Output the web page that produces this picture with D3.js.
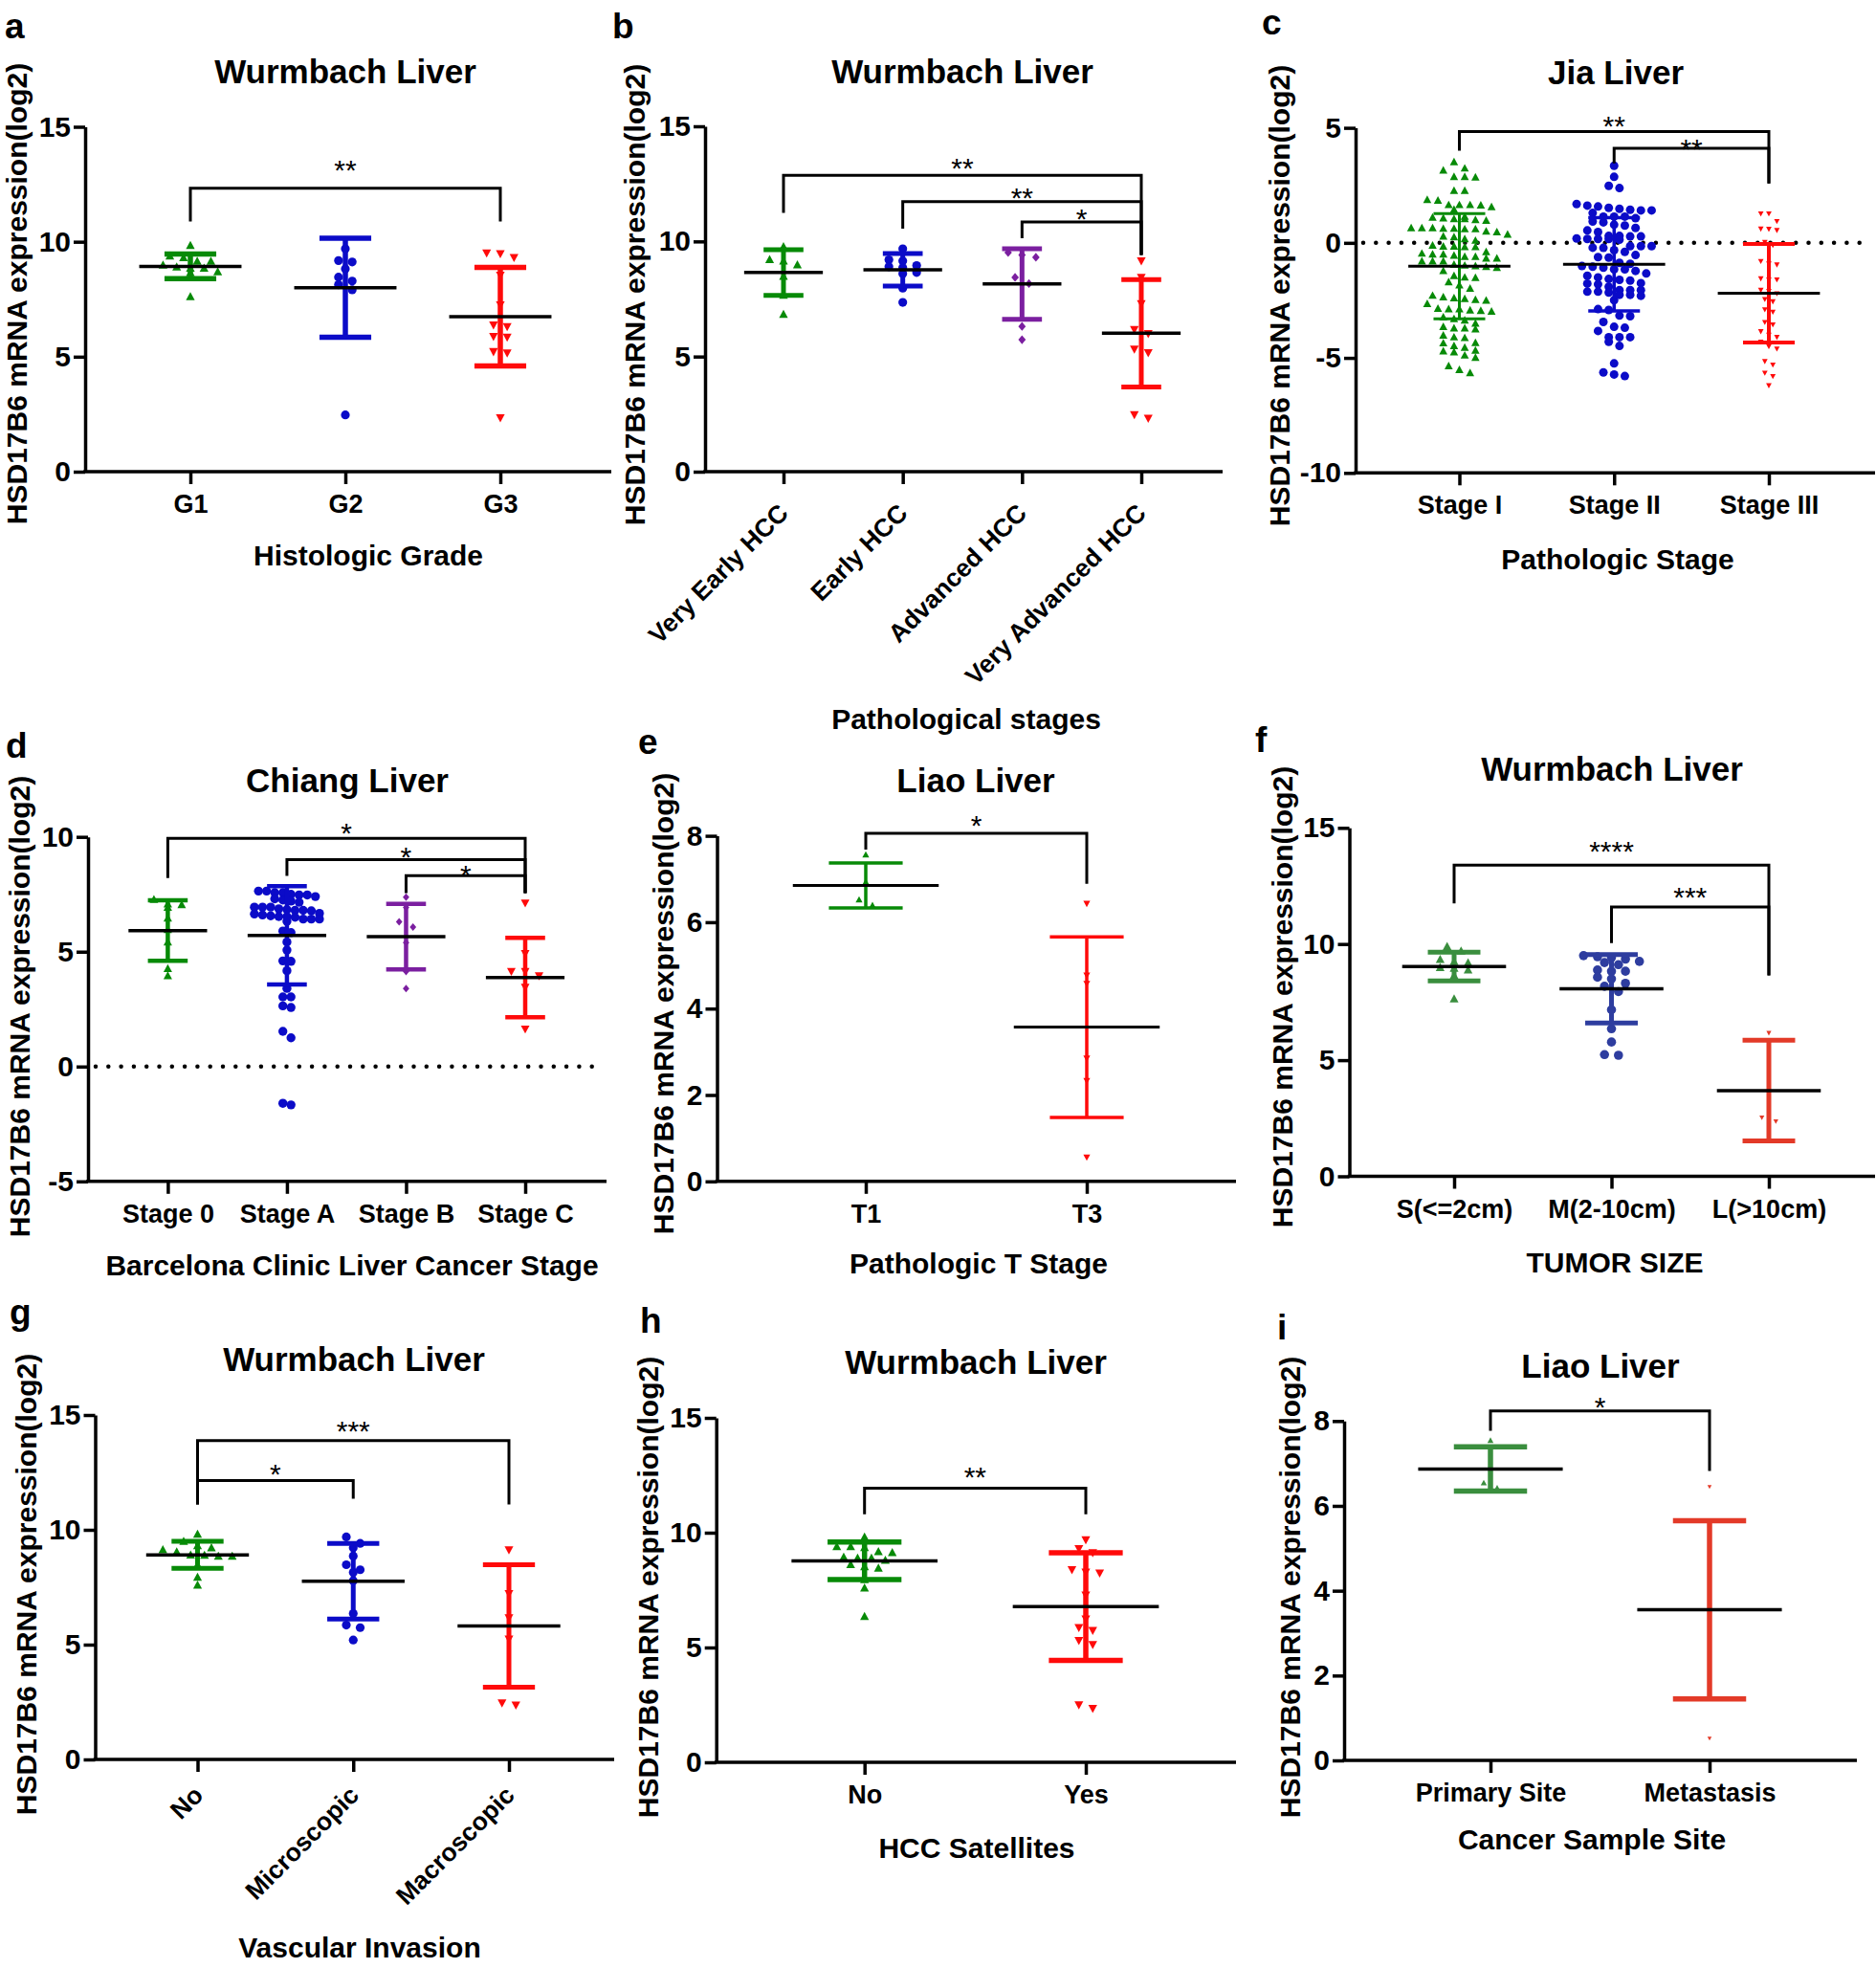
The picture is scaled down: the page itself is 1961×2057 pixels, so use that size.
<!DOCTYPE html>
<html>
<head>
<meta charset="utf-8">
<script src="https://d3js.org/d3.v7.min.js"></script>
<style>
  body { margin: 0; background: #fff; }
</style>
</head>
<body>
<script>
var FONT = "'Liberation Sans', Arial, Helvetica, sans-serif";

// ---------- data (log2 expression) ----------
// a: Wurmbach, histologic grade
var aCats = ["G1", "G2", "G3"];
var aG1 = [9.84, 9.38, 9.31, 9.15, 9.15, 8.98, 8.9, 8.85, 8.85, 8.69, 8.65, 7.61];
var aG2 = [9.69, 9.18, 9.12, 8.82, 8.46, 8.29, 8.13, 7.91, 2.47];
var aG3 = [9.51, 9.48, 9.31, 8.54, 7.25, 6.38, 6.31, 5.88, 5.85, 5.22, 5.16, 2.34];
var aMean = [8.93, 8.0, 6.74];
var aSd = [0.535, 2.15, 2.145];

// b: Wurmbach, pathological stages
var bCats = ["Very Early HCC", "Early HCC", "Advanced HCC", "Very Advanced HCC"];
var bVE = [9.77, 9.21, 9.15, 8.98, 8.48, 7.66, 6.83];
var bE = [9.68, 9.2, 9.15, 8.95, 8.9, 8.86, 8.65, 8.6, 7.97, 7.35];
var bA = [9.52, 9.41, 9.31, 8.44, 8.17, 6.31, 5.73];
var bVA = [9.15, 8.44, 7.3, 6.17, 6.0, 5.32, 5.17, 2.48, 2.32];
var bMean = [8.65, 8.77, 8.15, 6.01];
var bSd = [0.99, 0.705, 1.53, 2.33];

// c: Jia, pathologic stage
var cCats = ["Stage I", "Stage II", "Stage III"];
var cI = [3.52, 3.24, 3.15, 2.87, 2.87, 2.85, 2.27, 2.27, 1.87, 1.84,
  1.65, 1.65, 1.65, 1.63, 1.56, 1.45, 1.14, 1.1, 1.07, 1.04, 1.04, 1.0, 0.97,
  0.65, 0.65, 0.65, 0.62, 0.62, 0.6, 0.6, 0.5, 0.47, 0.37, 0.28, 0.25, 0.17, 0.1,
  -0.11, -0.15, -0.15, -0.18, -0.18, -0.39, -0.46,
  -0.5, -0.5, -0.55, -0.6, -0.6, -0.67, -0.67, -0.8, -0.8, -0.8,
  -0.94, -0.98, -1.01, -1.04, -1.08, -1.22, -1.43, -1.5, -1.52, -1.7, -1.84, -1.98,
  -2.29, -2.36, -2.4, -2.43, -2.47, -2.5, -2.65, -2.86, -2.88, -2.88, -2.93, -2.95, -2.98,
  -3.23, -3.3, -3.37, -3.5, -3.65, -3.71, -3.71, -3.75, -4.02, -4.1, -4.13,
  -4.34, -4.36, -4.48, -4.55, -4.68, -4.71, -4.75, -4.89, -4.99, -5.35, -5.52, -5.65];
var cII = [3.35, 2.87, 2.48, 2.38,
  1.69, 1.62, 1.58, 1.52, 1.48, 1.44, 1.41, 1.41,
  1.3, 1.14, 1.14, 1.14, 1.07, 0.93, 0.89,
  0.79, 0.75, 0.65, 0.54, 0.47,
  0.3, 0.3, 0.28, 0.28, 0.19, 0.17, 0.17, 0.17, 0.14,
  -0.14, -0.14, -0.14, -0.21, -0.22, -0.32, -0.39, -0.53, -0.62, -0.64, -0.87, -0.91,
  -1.01, -1.04, -1.08, -1.15, -1.15, -1.22, -1.33, -1.43, -1.5, -1.57, -1.61, -1.64, -1.75,
  -1.77, -1.8, -1.91, -2.05, -2.05, -2.05, -2.12, -2.12, -2.16, -2.26,
  -2.26, -2.3, -2.49, -2.88, -2.92, -3.16, -3.19, -3.44, -3.65, -3.69, -3.83,
  -4.1, -4.1, -4.1, -4.3, -4.48, -5.24, -5.63, -5.72, -5.79];
var cIII = [1.27, 1.27, 0.94, 0.61, 0.6, 0.55, 0.03, -0.1, -0.8, -0.9, -0.95,
  -1.55, -1.6, -1.6, -2.05, -2.1, -2.2, -2.45, -2.55, -2.9, -3.0, -3.45, -3.55,
  -3.85, -4.0, -4.1, -4.3, -4.5, -4.6, -5.15, -5.3, -5.65, -5.8, -6.2];
var cMean = [-1.015, -0.93, -2.19];
var cSd = [2.285, 2.03, 2.14];

// d: Chiang, BCLC stage
var dCats = ["Stage 0", "Stage A", "Stage B", "Stage C"];
var d0 = [7.27, 7.08, 7.04, 6.93, 6.46, 5.96, 5.42, 4.26, 3.95];
var dA = [7.64, 7.64, 7.57, 7.57, 7.5, 7.47, 7.47, 7.4, 7.3, 7.25, 7.2, 7.15,
  6.94, 6.94, 6.94, 6.87, 6.83, 6.8, 6.8, 6.78, 6.67, 6.64, 6.6, 6.56, 6.53, 6.53,
  6.5, 6.42, 6.42, 6.42, 6.32, 5.9, 5.83, 5.42, 5.07, 4.6, 4.58, 4.17, 3.4,
  3.03, 3.03, 2.64, 2.57, 1.53, 1.25, -1.6, -1.67];
var dB = [7.37, 6.93, 6.3, 6.07, 5.39, 4.14, 3.4];
var dC = [7.12, 4.92, 4.14, 4.14, 3.95, 3.45, 1.63];
var dMean = [5.92, 5.71, 5.655, 3.875];
var dSd = [1.315, 2.14, 1.425, 1.725];

// e: Liao, pathologic T stage
var eCats = ["T1", "T3"];
var eT1 = [7.56, 6.93, 6.52, 6.39];
var eT3 = [6.43, 4.77, 4.58, 2.85, 2.33, 0.56];
var eMean = [6.85, 3.57];
var eSd = [0.52, 2.09];

// f: Wurmbach, tumour size
var fCats = ["S(<=2cm)", "M(2-10cm)", "L(>10cm)"];
var fS = [9.89, 9.7, 9.34, 9.24, 9.19, 8.99, 8.96, 8.88, 8.65, 7.64];
var fM = [9.5, 9.45, 9.42, 9.35, 9.25, 9.2, 9.11, 8.88, 8.83, 8.83, 8.57, 8.5,
  8.31, 8.18, 7.95, 7.17, 6.35, 5.78, 5.24, 5.21];
var fL = [6.17, 2.53, 2.37];
var fMean = [9.03, 8.075, 3.69];
var fSd = [0.62, 1.475, 2.17];

// g: Wurmbach, vascular invasion
var gCats = ["No", "Microscopic", "Macroscopic"];
var gNo = [9.81, 9.5, 9.31, 9.22, 9.13, 9.04, 8.9, 8.89, 8.85, 8.85, 8.48, 7.93, 7.59];
var gMi = [9.69, 9.41, 9.22, 8.85, 8.48, 8.26, 8.15, 7.78, 6.35, 5.85, 5.74, 5.2];
var gMa = [9.13, 7.22, 6.17, 5.24, 2.46, 2.37];
var gMean = [8.91, 7.76, 5.815];
var gSd = [0.585, 1.65, 2.665];

// h: Wurmbach, HCC satellites
var hCats = ["No", "Yes"];
var hNo = [9.81, 9.39, 9.39, 9.35, 9.17, 9.13, 8.93, 8.89, 8.89, 8.8, 8.61, 8.52,
  8.46, 7.96, 7.59, 6.35];
var hYes = [9.69, 9.31, 9.13, 8.39, 8.28, 8.24, 7.28, 6.24, 5.87, 5.74, 5.31, 5.13, 2.5, 2.35];
var hMean = [8.775, 6.785];
var hSd = [0.815, 2.345];

// i: Liao, sample site
var iCats = ["Primary Site", "Metastasis"];
var iP = [7.54, 6.92, 6.54, 6.42];
var iM = [6.45, 4.77, 4.58, 2.85, 2.33, 0.52];
var iMean = [6.87, 3.55];
var iSd = [0.52, 2.1];

var GREEN = "#078a07", BLUE = "#0b0bc8", RED = "#ff0a0a", PURPLE = "#7b1fa0";
var GREEN2 = "#3a8e3e", BLUE2 = "#2e3d9f", RED2 = "#e33a28";

var svg = d3.select("body").append("svg")
  .attr("width", 1961).attr("height", 2057)
  .style("background", "#fff");

function shapePath(shape, r) {
  if (shape == "up") return "M0," + (-1.05 * r) + "L" + r + "," + (0.8 * r) + "L" + (-r) + "," + (0.8 * r) + "Z";
  if (shape == "down") return "M0," + (1.05 * r) + "L" + r + "," + (-0.8 * r) + "L" + (-r) + "," + (-0.8 * r) + "Z";
  if (shape == "diamond") return "M0," + (-r) + "L" + (0.85 * r) + ",0L0," + r + "L" + (-0.85 * r) + ",0Z";
  return d3.symbol().type(d3.symbolCircle).size(Math.PI * r * r)();
}

// simple column-scatter layout: points close in y share a row and spread sideways
function swarm(values, y, cx, dx, bin) {
  var pts = values.map(function(v) { return {v: v, py: y(v)}; })
    .sort(function(a, b) { return a.py - b.py; });
  var rows = [], cur = null;
  pts.forEach(function(p) {
    if (!cur || p.py - cur[0].py >= bin) { cur = [p]; rows.push(cur); }
    else cur.push(p);
  });
  rows.forEach(function(row) {
    row.forEach(function(p, k) { p.px = cx + (k - (row.length - 1) / 2) * dx; });
  });
  return pts;
}

function drawPanel(p) {
  var g = svg.append("g");
  var y = d3.scaleLinear().domain(p.yDomain).range([p.yBot, p.yTop]);
  var x = d3.scalePoint().domain(p.cats).range(p.catRange);
  var step = (p.catRange[1] - p.catRange[0]) / (p.cats.length - 1);

  if (p.zeroEnd) {
    g.append("line")
      .attr("x1", p.x0 + 8).attr("x2", p.zeroEnd)
      .attr("y1", y(0)).attr("y2", y(0))
      .attr("stroke", "#000").attr("stroke-width", 4.5)
      .attr("stroke-linecap", "round").attr("stroke-dasharray", "0 13.3");
  }

  p.groups.forEach(function(gr, i) {
    var cx = x(p.cats[i]);
    var pts = swarm(gr.values, y, cx, gr.dx || p.dx, p.bin);
    g.selectAll(null).data(pts).enter().append("path")
      .attr("d", shapePath(gr.shape, gr.r || p.r))
      .attr("transform", function(d) { return "translate(" + d.px + "," + d.py + ")"; })
      .attr("fill", gr.color);
  });

  p.groups.forEach(function(gr, i) {
    var cx = x(p.cats[i]);
    var m = p.means[i], s = p.sds[i];
    var cw = step * 0.167;
    var sw = gr.sdw || p.sdw;
    g.append("path")
      .attr("d", "M" + cx + "," + y(m + s) + "V" + y(m - s) +
        "M" + (cx - cw) + "," + y(m + s) + "H" + (cx + cw) +
        "M" + (cx - cw) + "," + y(m - s) + "H" + (cx + cw))
      .attr("fill", "none").attr("stroke", gr.color).attr("stroke-width", sw);
    g.append("line")
      .attr("x1", cx - step * 0.33).attr("x2", cx + step * 0.33)
      .attr("y1", y(m)).attr("y2", y(m))
      .attr("stroke", "#000").attr("stroke-width", p.meanw || 3.5);
  });

  // axes
  var ya = g.append("g").attr("transform", "translate(" + p.x0 + ",0)")
    .call(d3.axisLeft(y).tickValues(p.yTicks).tickSize(12).tickSizeOuter(0).tickPadding(3)
      .tickFormat(function(d) { return String(d); }));
  ya.select(".domain").attr("stroke-width", 3.5);
  ya.selectAll(".tick line").attr("stroke-width", 3.5);

  var xa = g.append("g").attr("transform", "translate(0," + p.yBot + ")")
    .call(d3.axisBottom(x).tickSize(13).tickPadding(11));
  xa.select(".domain").remove();
  xa.selectAll(".tick line").attr("stroke-width", 3.5);
  g.append("line")
    .attr("x1", p.x0 - 1.75).attr("x2", p.x1)
    .attr("y1", p.yBot).attr("y2", p.yBot)
    .attr("stroke", "#000").attr("stroke-width", 3.5);

  [ya, xa].forEach(function(a) {
    a.attr("font-family", FONT).attr("font-weight", "bold");
    a.selectAll("text").attr("fill", "#000");
  });
  ya.attr("font-size", 30);
  xa.attr("font-size", 27);
  if (p.rot) {
    xa.selectAll("text")
      .attr("x", 0).attr("y", 0).attr("dy", 0)
      .attr("font-size", 26.5)
      .attr("text-anchor", "end")
      .attr("transform", "translate(" + p.rot[0] + "," + p.rot[1] + ") rotate(-45)");
  }

  // significance brackets
  p.brackets.forEach(function(b) {
    var xa1 = x(b.from), xb = x(b.to);
    g.append("path")
      .attr("d", "M" + xa1 + "," + y(b.y1) + "V" + y(b.y) + "H" + xb + "V" + y(b.y2))
      .attr("fill", "none").attr("stroke", "#000").attr("stroke-width", 3);
    g.append("text")
      .attr("x", (xa1 + xb) / 2).attr("y", y(b.ly) + 0.58 * 30)
      .attr("text-anchor", "middle")
      .attr("font-family", FONT).attr("font-size", 30)
      .text(b.label);
  });

  // texts
  g.append("text").attr("x", p.letter[1]).attr("y", p.letter[2])
    .attr("font-family", FONT).attr("font-size", 37).attr("font-weight", "bold")
    .text(p.letter[0]);
  g.append("text").attr("x", p.titlePos[0]).attr("y", p.titlePos[1])
    .attr("text-anchor", "middle")
    .attr("font-family", FONT).attr("font-size", 35).attr("font-weight", "bold")
    .text(p.title);
  g.append("text")
    .attr("transform", "translate(" + p.yLab[0] + "," + p.yLab[1] + ") rotate(-90)")
    .attr("text-anchor", "middle")
    .attr("font-family", FONT).attr("font-size", 30).attr("font-weight", "bold")
    .text("HSD17B6 mRNA expression(log2)");
  g.append("text").attr("x", p.xLabPos[0]).attr("y", p.xLabPos[1])
    .attr("text-anchor", "middle")
    .attr("font-family", FONT).attr("font-size", 30).attr("font-weight", "bold")
    .text(p.xLab);
}

var panels = [
  {
    letter: ["a", 5, 40], title: "Wurmbach Liver", titlePos: [361, 87],
    yLab: [28, 307], xLab: "Histologic Grade", xLabPos: [385, 591],
    x0: 89, x1: 639, yTop: 132.5, yBot: 493, yDomain: [0, 15], yTicks: [0, 5, 10, 15],
    cats: aCats, catRange: [199, 523], dx: 14.3, bin: 7, r: 4.6, sdw: 5.5,
    means: aMean, sds: aSd,
    groups: [
      {values: aG1, color: GREEN, shape: "up"},
      {values: aG2, color: BLUE, shape: "circle"},
      {values: aG3, color: RED, shape: "down"}
    ],
    brackets: [{from: "G1", to: "G3", y: 12.33, y1: 10.88, y2: 10.88, label: "**", ly: 13.4}]
  },
  {
    letter: ["b", 640, 40], title: "Wurmbach Liver", titlePos: [1006, 87],
    yLab: [674, 308], xLab: "Pathological stages", xLabPos: [1010, 762],
    x0: 737, x1: 1278, yTop: 132, yBot: 493, yDomain: [0, 15], yTicks: [0, 5, 10, 15],
    cats: bCats, catRange: [819, 1193], dx: 14.5, bin: 7, r: 4.6, sdw: 5,
    means: bMean, sds: bSd, rot: [6, 45],
    groups: [
      {values: bVE, color: GREEN, shape: "up"},
      {values: bE, color: BLUE, shape: "circle"},
      {values: bA, color: PURPLE, shape: "diamond"},
      {values: bVA, color: RED, shape: "down"}
    ],
    brackets: [
      {from: bCats[0], to: bCats[3], y: 12.87, y1: 11.24, y2: 9.41, label: "**", ly: 13.5},
      {from: bCats[1], to: bCats[3], y: 11.73, y1: 10.55, y2: 9.41, label: "**", ly: 12.2},
      {from: bCats[2], to: bCats[3], y: 10.84, y1: 10.14, y2: 9.41, label: "*", ly: 11.28}
    ]
  },
  {
    letter: ["c", 1319, 36], title: "Jia Liver", titlePos: [1689, 88],
    yLab: [1348, 309], xLab: "Pathologic Stage", xLabPos: [1691, 595],
    x0: 1417, x1: 1960, yTop: 133.6, yBot: 494.3, yDomain: [-10, 5], yTicks: [-10, -5, 0, 5],
    cats: cCats, catRange: [1525.5, 1849], dx: 11.2, bin: 8, r: 4.3, sdw: 3.5, meanw: 3,
    means: cMean, sds: cSd, zeroEnd: 1953,
    groups: [
      {values: cI, color: GREEN, shape: "up", sdw: 3},
      {values: cII, color: BLUE, shape: "circle", r: 4.5},
      {values: cIII, color: RED, shape: "down", r: 2.9, dx: 8.4, sdw: 4}
    ],
    brackets: [
      {from: cCats[0], to: cCats[2], y: 4.84, y1: 4.01, y2: 2.58, label: "**", ly: 5.38},
      {from: cCats[1], to: cCats[2], y: 4.11, y1: 3.45, y2: 2.58, label: "**", ly: 4.39}
    ]
  },
  {
    letter: ["d", 6, 792], title: "Chiang Liver", titlePos: [363, 828],
    yLab: [31, 1052], xLab: "Barcelona Clinic Liver Cancer Stage", xLabPos: [368, 1333],
    x0: 92, x1: 634, yTop: 874.7, yBot: 1234.8, yDomain: [-5, 10], yTicks: [-5, 0, 5, 10],
    cats: dCats, catRange: [175.4, 549], dx: 14.5, bin: 7, r: 4.5, sdw: 4.5,
    means: dMean, sds: dSd, zeroEnd: 626,
    groups: [
      {values: d0, color: GREEN, shape: "up"},
      {values: dA, color: BLUE, shape: "circle", dx: 8.5, r: 4.7},
      {values: dB, color: PURPLE, shape: "diamond", r: 4},
      {values: dC, color: RED, shape: "down"}
    ],
    brackets: [
      {from: dCats[0], to: dCats[3], y: 9.94, y1: 8.21, y2: 7.55, label: "*", ly: 10.45},
      {from: dCats[1], to: dCats[3], y: 9.01, y1: 8.3, y2: 7.55, label: "*", ly: 9.44},
      {from: dCats[2], to: dCats[3], y: 8.31, y1: 7.55, y2: 7.55, label: "*", ly: 8.62}
    ]
  },
  {
    letter: ["e", 667, 788], title: "Liao Liver", titlePos: [1020, 828],
    yLab: [704, 1049], xLab: "Pathologic T Stage", xLabPos: [1023, 1331],
    x0: 749.5, x1: 1292, yTop: 873.6, yBot: 1234.8, yDomain: [0, 8], yTicks: [0, 2, 4, 6, 8],
    cats: eCats, catRange: [905, 1136], dx: 14, bin: 6, r: 3.6, sdw: 3.5, meanw: 3,
    means: eMean, sds: eSd,
    groups: [
      {values: eT1, color: GREEN, shape: "up"},
      {values: eT3, color: RED, shape: "down"}
    ],
    brackets: [{from: "T1", to: "T3", y: 8.06, y1: 7.68, y2: 6.89, label: "*", ly: 8.39}]
  },
  {
    letter: ["f", 1312, 786], title: "Wurmbach Liver", titlePos: [1685, 816],
    yLab: [1351, 1042], xLab: "TUMOR SIZE", xLabPos: [1688, 1330],
    x0: 1410.5, x1: 1960, yTop: 865.3, yBot: 1229.5, yDomain: [0, 15], yTicks: [0, 5, 10, 15],
    cats: fCats, catRange: [1520, 1849], dx: 14.6, bin: 7, r: 4.6, sdw: 5,
    means: fMean, sds: fSd,
    groups: [
      {values: fS, color: GREEN2, shape: "up"},
      {values: fM, color: BLUE2, shape: "circle", r: 4.8},
      {values: fL, color: RED2, shape: "down", r: 2.6}
    ],
    brackets: [
      {from: fCats[0], to: fCats[2], y: 13.4, y1: 11.75, y2: 8.65, label: "****", ly: 14.3},
      {from: fCats[1], to: fCats[2], y: 11.59, y1: 10.04, y2: 8.65, label: "***", ly: 12.3}
    ]
  },
  {
    letter: ["g", 10, 1384], title: "Wurmbach Liver", titlePos: [370, 1433],
    yLab: [38, 1656], xLab: "Vascular Invasion", xLabPos: [376, 2046],
    x0: 99.5, x1: 642, yTop: 1479, yBot: 1839, yDomain: [0, 15], yTicks: [0, 5, 10, 15],
    cats: gCats, catRange: [206.5, 532], dx: 14.5, bin: 7, r: 4.6, sdw: 5,
    means: gMean, sds: gSd, rot: [7, 39],
    groups: [
      {values: gNo, color: GREEN, shape: "up"},
      {values: gMi, color: BLUE, shape: "circle"},
      {values: gMa, color: RED, shape: "down"}
    ],
    brackets: [
      {from: gCats[0], to: gCats[2], y: 13.89, y1: 11.1, y2: 11.1, label: "***", ly: 14.59},
      {from: gCats[0], to: gCats[1], y: 12.15, y1: 11.1, y2: 11.35, label: "*", ly: 12.74}
    ]
  },
  {
    letter: ["h", 669, 1393], title: "Wurmbach Liver", titlePos: [1020, 1436],
    yLab: [688, 1659], xLab: "HCC Satellites", xLabPos: [1021, 1942],
    x0: 748.7, x1: 1292, yTop: 1482, yBot: 1842, yDomain: [0, 15], yTicks: [0, 5, 10, 15],
    cats: hCats, catRange: [903.7, 1135], dx: 14.5, bin: 7, r: 4.6, sdw: 5.5,
    means: hMean, sds: hSd,
    groups: [
      {values: hNo, color: GREEN, shape: "up"},
      {values: hYes, color: RED, shape: "down"}
    ],
    brackets: [{from: "No", to: "Yes", y: 11.94, y1: 10.8, y2: 10.8, label: "**", ly: 12.72}]
  },
  {
    letter: ["i", 1335, 1400], title: "Liao Liver", titlePos: [1673, 1440],
    yLab: [1359, 1659], xLab: "Cancer Sample Site", xLabPos: [1664, 1933],
    x0: 1405, x1: 1941, yTop: 1485.3, yBot: 1840, yDomain: [0, 8], yTicks: [0, 2, 4, 6, 8],
    cats: iCats, catRange: [1558, 1787], dx: 14, bin: 6, r: 3.2, sdw: 5.5,
    means: iMean, sds: iSd,
    groups: [
      {values: iP, color: GREEN2, shape: "up"},
      {values: iM, color: RED2, shape: "down", r: 2.2}
    ],
    brackets: [{from: iCats[0], to: iCats[1], y: 8.24, y1: 7.77, y2: 6.82, label: "*", ly: 8.5}]
  }
];

panels.forEach(drawPanel);
</script>
</body>
</html>
